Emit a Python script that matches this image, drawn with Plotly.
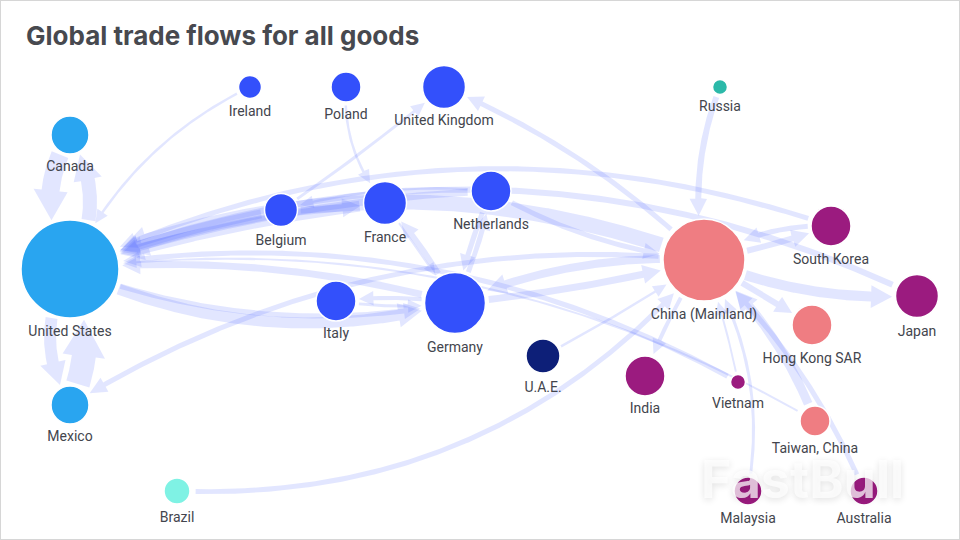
import numpy as np
import plotly.graph_objects as go

# === Nodes ===
names = ["United States", "Canada", "Mexico", "Ireland", "Poland", "United Kingdom", "Belgium", "France",
         "Netherlands", "Italy", "Germany", "U.A.E.", "China (Mainland)", "Russia", "South Korea", "Japan",
         "Hong Kong SAR", "India", "Vietnam", "Taiwan, China", "Malaysia", "Australia", "Brazil"]
node_x = [70, 70, 70, 250, 346, 444, 281, 385, 491, 336, 455, 543, 704, 720, 831, 917, 812, 645, 738, 815, 748, 864, 177]
node_y = [269, 135, 405, 87, 87, 87, 210, 203, 191, 301, 303, 356, 260, 87, 226, 296, 325, 376, 382, 421, 491, 491, 491]
node_size = [98, 38, 38, 23, 30, 43, 33, 43, 40, 40, 61, 34, 82, 15, 40, 43, 40, 40, 15, 30, 28, 28, 26]
label_y = [332, 167, 437, 112, 115, 121, 241, 238, 225, 334, 348, 388, 315, 107, 260, 332, 359, 409, 404, 449, 519, 519, 518]

BLUE, SKY, SALMON, PURPLE = "#3350fb", "#29a5f0", "#ef7d82", "#9b1b7f"
node_color = [SKY, SKY, SKY, BLUE, BLUE, BLUE, BLUE, BLUE, BLUE, BLUE, BLUE, "#0d1f78", SALMON, "#2bb9a9",
              PURPLE, PURPLE, SALMON, PURPLE, PURPLE, SALMON, PURPLE, PURPLE, "#7ff2e4"]

# === Flows: origin, destination, width, bend ===
edge_from = ["Canada", "United States", "United States", "Mexico", "Ireland", "Poland", "Belgium", "Netherlands",
             "Belgium", "France", "Netherlands", "Germany", "China (Mainland)", "China (Mainland)", "Germany",
             "China (Mainland)", "Japan", "South Korea", "China (Mainland)", "Russia", "South Korea",
             "China (Mainland)", "China (Mainland)", "Taiwan, China", "Australia", "Malaysia", "Vietnam",
             "Vietnam", "Taiwan, China", "China (Mainland)", "Brazil", "U.A.E.", "Italy", "Germany", "France",
             "Germany", "Netherlands", "Germany", "United States", "United States", "China (Mainland)",
             "Belgium", "Netherlands"]
edge_to = ["United States", "Canada", "Mexico", "United States", "United States", "France", "United Kingdom",
           "Belgium", "United States", "United States", "United States", "United States", "United States",
           "Germany", "China (Mainland)", "Japan", "United States", "United States", "United Kingdom",
           "China (Mainland)", "China (Mainland)", "South Korea", "Hong Kong SAR", "China (Mainland)",
           "China (Mainland)", "China (Mainland)", "China (Mainland)", "United States", "United States",
           "India", "China (Mainland)", "China (Mainland)", "Germany", "Italy", "Germany", "France", "Germany",
           "Netherlands", "Germany", "Germany", "Mexico", "France", "China (Mainland)"]
edge_width = [18, 14, 12, 24, 2.5, 2.5, 3, 2.5, 9, 11, 7, 7, 15, 8, 7, 10, 6, 5, 5, 6, 5, 6, 6, 9, 5, 3, 2, 5, 2, 4,
              5, 2.5, 3, 4, 2, 6, 5, 5, 11, 5, 5, 7, 5]
edge_bend = [40, 40, 40, 30, 45, 25, 5, 20, 10, 15, 30, 35, 125, 30, 10, 25, 185, 155, 30, 25, 20, 5, 0, 25, 30, 45,
             5, 120, 130, 8, 140, 5, 8, 8, 0, 8, 5, 8, 70, 55, 110, 4, 25]

FLOW_COLOR = "rgba(51,80,255,0.14)"
GAP = 3
pos = {n: (x, y, s / 2) for n, x, y, s in zip(names, node_x, node_y, node_size)}


def ribbon(src, dst, w, bend):
    # quadratic curve centre to centre, clipped at both circles, then outlined with a head
    x0, y0, r0 = pos[src]
    x1, y1, r1 = pos[dst]
    dx, dy = x1 - x0, y1 - y0
    ln = np.hypot(dx, dy)
    cx = (x0 + x1) / 2 - dy / ln * bend
    cy = (y0 + y1) / 2 + dx / ln * bend
    t = np.linspace(0, 1, 240)
    px = (1 - t) ** 2 * x0 + 2 * t * (1 - t) * cx + t ** 2 * x1
    py = (1 - t) ** 2 * y0 + 2 * t * (1 - t) * cy + t ** 2 * y1
    keep = (np.hypot(px - x0, py - y0) > r0 + GAP) & (np.hypot(px - x1, py - y1) > r1 + GAP)
    px, py = px[keep], py[keep]
    seg = np.hypot(np.diff(px), np.diff(py))
    dist = np.concatenate([[0], np.cumsum(seg)])
    head_len = w * 1.1 + 10
    head_w = w * 1.4 + 9
    stem = dist < dist[-1] - head_len
    tx, ty = np.gradient(px), np.gradient(py)
    tl = np.hypot(tx, ty)
    nx, ny = -ty / tl, tx / tl
    sx, sy, snx, sny = px[stem], py[stem], nx[stem], ny[stem]
    hx, hy = sx[-1], sy[-1]
    hnx, hny = snx[-1], sny[-1]
    xs = list(sx + snx * w / 2) + [hx + hnx * head_w / 2, px[-1], hx - hnx * head_w / 2] + list((sx - snx * w / 2)[::-1])
    ys = list(sy + sny * w / 2) + [hy + hny * head_w / 2, py[-1], hy - hny * head_w / 2] + list((sy - sny * w / 2)[::-1])
    return xs, ys


fig = go.Figure()

for a, b, w, bd in zip(edge_from, edge_to, edge_width, edge_bend):
    xs, ys = ribbon(a, b, w, bd)
    fig.add_trace(go.Scatter(x=xs, y=ys, mode="lines", fill="toself", fillcolor=FLOW_COLOR,
                             line=dict(width=0), hoverinfo="skip", showlegend=False))

fig.add_trace(go.Scatter(x=node_x, y=node_y, mode="markers", text=names, hoverinfo="text", showlegend=False,
                         marker=dict(size=node_size, color=node_color, opacity=1, line=dict(color="white", width=1.5))))

fig.add_trace(go.Scatter(x=node_x, y=label_y, mode="text", text=names, hoverinfo="skip", showlegend=False,
                         textposition="middle center",
                         textfont=dict(family="Roboto", size=14, color="#43454d")))

# watermark sits over the nodes
fig.add_annotation(x=802, y=479, text="<b>FastBull</b>", showarrow=False,
                   font=dict(family="Inter", size=52, color="rgba(255,255,255,0.72)",
                             shadow="0 2px 7px rgba(0,0,0,0.16)"))

fig.add_annotation(x=24, y=35, text="<b>Global trade flows for all goods</b>", showarrow=False, xanchor="left",
                   font=dict(family="Inter", size=26, color="#47494f"))

fig.add_shape(type="rect", x0=0, y0=0, x1=960, y1=540, line=dict(color="#d6d6d6", width=2), layer="above")

fig.update_layout(
    width=960,
    height=540,
    margin=dict(l=0, r=0, t=0, b=0),
    paper_bgcolor="white",
    plot_bgcolor="white",
    xaxis=dict(range=[0, 960], visible=False, fixedrange=True),
    yaxis=dict(range=[540, 0], visible=False, fixedrange=True),
)

fig.write_html("out.html", config=dict(displayModeBar=False), post_script="document.body.style.margin='0';")
